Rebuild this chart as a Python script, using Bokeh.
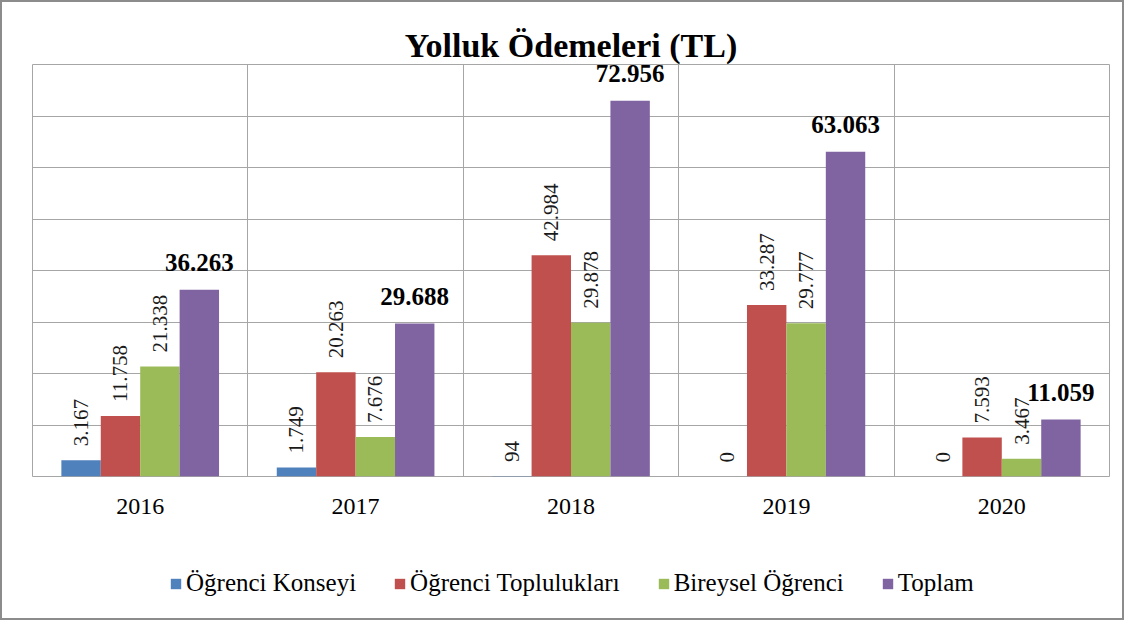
import math
from bokeh.plotting import figure
from bokeh.layouts import column
from bokeh.models import ColumnDataSource, FixedTicker, Legend, LegendItem, Range1d
from bokeh.core.properties import value
from bokeh.embed import file_html
from bokeh.resources import INLINE

# ---- data ----
years = ["2016", "2017", "2018", "2019", "2020"]
series_names = ["Öğrenci Konseyi", "Öğrenci Toplulukları", "Bireysel Öğrenci", "Toplam"]
ogrenci_konseyi = [3167, 1749, 94, 0, 0]
ogrenci_topluluklari = [11758, 20263, 42984, 33287, 7593]
bireysel_ogrenci = [21338, 7676, 29878, 29777, 3467]
toplam = [36263, 29688, 72956, 63063, 11059]
y_ticks = [0, 10000, 20000, 30000, 40000, 50000, 60000, 70000, 80000]

colors = ["#4F81BD", "#C0504D", "#9BBB59", "#8064A2"]
offsets = [-0.2745, -0.0915, 0.0915, 0.2745]
bar_w = 0.183
SERIF = "Liberation Serif"


def tr_fmt(v):
    return f"{v:,}".replace(",", ".")


p = figure(width=1120, height=524,
           x_range=Range1d(0, len(years)), y_range=Range1d(0, y_ticks[-1]),
           output_backend="svg", toolbar_location=None,
           min_border_left=30, min_border_right=13,
           min_border_top=62, min_border_bottom=50)

p.title.text = "Yolluk Ödemeleri (TL)"
p.title.align = "center"
p.title.text_font = SERIF
p.title.text_font_size = "34px"
p.title.text_font_style = "bold"
p.title.text_color = "black"
p.title.standoff = 2

p.yaxis.visible = False
p.ygrid.ticker = FixedTicker(ticks=y_ticks)
p.xgrid.ticker = FixedTicker(ticks=list(range(len(years) + 1)))
p.grid.grid_line_color = "#A6A6A6"
p.grid.grid_line_width = 1
p.grid.grid_line_alpha = 1
p.outline_line_color = "#A6A6A6"
p.outline_line_width = 1

centers = [i + 0.5 for i in range(len(years))]
p.xaxis.ticker = FixedTicker(ticks=centers)
p.xaxis.major_label_overrides = {c: y for c, y in zip(centers, years)}
p.xaxis.axis_line_color = None
p.xaxis.major_tick_line_color = None
p.xaxis.minor_tick_line_color = None
p.xaxis.major_label_standoff = 16
p.xaxis.major_label_text_font = SERIF
p.xaxis.major_label_text_font_size = "24px"
p.xaxis.major_label_text_color = "black"

# legend strip (separate figure so the legend is not clipped by the plot frame)
lg = figure(width=1120, height=92, x_range=Range1d(100, 101), y_range=Range1d(0, 1),
            output_backend="svg", toolbar_location=None,
            min_border_left=30, min_border_right=13, min_border_top=0, min_border_bottom=0)
lg.axis.visible = False
lg.grid.visible = False
lg.outline_line_color = None

series_vals = [ogrenci_konseyi, ogrenci_topluluklari, bireysel_ogrenci, toplam]
items = []
for k, (name, vals) in enumerate(zip(series_names, series_vals)):
    src = ColumnDataSource(dict(
        x=[c + offsets[k] for c in centers],
        top=vals,
        lab=[tr_fmt(v) for v in vals],
    ))
    p.vbar(x="x", top="top", width=bar_w, source=src,
           fill_color=colors[k], line_color=None)
    # legend proxy: same data, zero-height bars outside the strip's range
    r = lg.vbar(x="x", top=0, bottom=0, width=bar_w, source=src,
                fill_color=colors[k], line_color=None)
    items.append(LegendItem(label=name, renderers=[r]))
    if k < 3:
        p.text(x="x", y="top", text="lab", source=src, angle=math.pi / 2,
               text_align="left", text_baseline="middle", y_offset=-14,
               text_font=value(SERIF), text_font_size="21px", text_color="#1a1a1a")
    else:
        p.text(x="x", y="top", text="lab", source=src,
               text_align="center", text_baseline="alphabetic", y_offset=-27,
               text_font=value(SERIF), text_font_size="25px",
               text_font_style="bold", text_color="black")

legend = Legend(items=items, orientation="horizontal", location=(137, 20),
                padding=0, margin=0, spacing=37, label_standoff=4,
                glyph_width=13, glyph_height=13, label_height=30,
                label_text_font=SERIF, label_text_font_size="25px",
                label_text_color="black",
                border_line_color=None, background_fill_alpha=0)
lg.add_layout(legend, "center")

layout = column(p, lg, spacing=0)
layout.styles = {"border": "2px solid #8C8C8C"}

open("out.html", "w").write(file_html(layout, INLINE))
